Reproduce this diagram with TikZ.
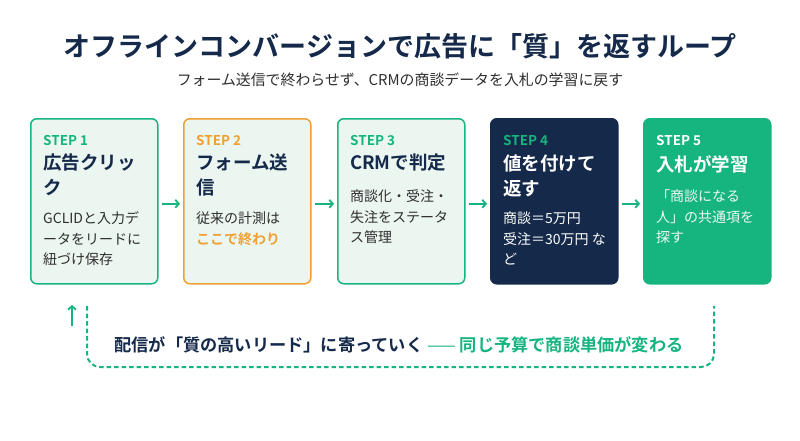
\documentclass[tikz,border=0pt]{standalone}
\usepackage{fontspec}
\setmainfont{Noto Sans CJK JP}[BoldFont={Noto Sans CJK JP Bold}]
\usetikzlibrary{arrows.meta}
\definecolor{navy}{HTML}{15294A}
\definecolor{grn}{HTML}{16B47E}
\definecolor{lite}{HTML}{ECF6F1}
\definecolor{orng}{HTML}{F0A032}
\definecolor{txtgray}{HTML}{2E2E2E}
\tikzset{
  card/.style={rounded corners=6pt, line width=1.5pt, minimum width=127pt, minimum height=165pt, inner sep=0pt, anchor=north west},
  ln/.style={inner sep=0pt, anchor=west, text height=0.88em, text depth=0.12em},
  steplbl/.style={ln, font=\fontsize{13.5}{16}\selectfont\bfseries},
  head/.style={ln, font=\fontsize{18.5}{22}\selectfont\bfseries},
  body/.style={ln, font=\fontsize{14}{18}\selectfont},
  flow/.style={draw=grn, line width=1.8pt, -{Straight Barb[length=3.5pt,width=8pt]}, shorten >=3pt, shorten <=3pt},
}
\begin{document}
\begin{tikzpicture}[x=1pt,y=-1pt]
\useasboundingbox[fill=white] (0,0) rectangle (800,440);
% title
\node[inner sep=0pt, text=navy, font=\fontsize{27}{32}\selectfont\bfseries] (title) at (400,46) {オフラインコンバージョンで広告に「質」を返すループ};
\node[inner sep=0pt, text=txtgray, font=\fontsize{14.9}{18}\selectfont] (sub) at (400,80) {フォーム送信で終わらせず、CRMの商談データを入札の学習に戻す};
% cards
\node[card, draw=grn, fill=lite] (b1) at (30,118) {};
\node[card, draw=orng, fill=lite] (b2) at (183,118) {};
\node[card, draw=grn, fill=lite] (b3) at (337,118) {};
\node[card, draw=navy, fill=navy] (b4) at (490,118) {};
\node[card, draw=grn, fill=grn] (b5) at (643,118) {};
% card 1
\node[steplbl, text=grn] (s1) at (43,142) {STEP 1};
\node[head, text=navy] (h1a) at (43,166) {広告クリッ};
\node[head, text=navy] (h1b) at (43,191) {ク};
\node[body, text=txtgray] (t1a) at (43,220) {GCLIDと入力デ};
\node[body, text=txtgray] (t1b) at (43,240.5) {ータをリードに};
\node[body, text=txtgray] (t1c) at (43,261) {紐づけ保存};
% card 2
\node[steplbl, text=orng] (s2) at (196,142) {STEP 2};
\node[head, text=navy] (h2a) at (196,166) {フォーム送};
\node[head, text=navy] (h2b) at (196,191) {信};
\node[body, text=txtgray] (t2a) at (196,220) {従来の計測は};
\node[body, text=orng, font=\fontsize{14}{18}\selectfont\bfseries] (t2b) at (196,240.5) {ここで終わり};
% card 3
\node[steplbl, text=grn] (s3) at (350,142) {STEP 3};
\node[head, text=navy] (h3a) at (350,166) {CRMで判定};
\node[body, text=txtgray] (t3a) at (350,198) {商談化・受注・};
\node[body, text=txtgray] (t3b) at (350,218.5) {失注をステータ};
\node[body, text=txtgray] (t3c) at (350,239) {ス管理};
% card 4
\node[steplbl, text=grn] (s4) at (503,142) {STEP 4};
\node[head, text=white] (h4a) at (503,167) {値を付けて};
\node[head, text=white] (h4b) at (503,192) {返す};
\node[body, text=white] (t4a) at (503,220) {商談＝5万円};
\node[body, text=white] (t4b) at (503,240.5) {受注＝30万円 な};
\node[body, text=white] (t4c) at (503,261) {ど};
% card 5
\node[steplbl, text=white] (s5) at (656,142) {STEP 5};
\node[head, text=white] (h5a) at (656,168) {入札が学習};
\node[body, text=white!92!grn] (t5a) at (656,198) {「商談になる};
\node[body, text=white!92!grn] (t5b) at (656,218.5) {人」の共通項を};
\node[body, text=white!92!grn] (t5c) at (656,239) {探す};
% flow arrows
\draw[flow] ([yshift=-2.5pt]b1.east) -- ([yshift=-2.5pt]b2.west);
\draw[flow] ([yshift=-2.5pt]b2.east) -- ([yshift=-2.5pt]b3.west);
\draw[flow] ([yshift=-2.5pt]b3.east) -- ([yshift=-2.5pt]b4.west);
\draw[flow] ([yshift=-2.5pt]b4.east) -- ([yshift=-2.5pt]b5.west);
% loop back
\coordinate (u0) at (72,326);
\coordinate (u1) at (72,305);
\draw[flow, shorten >=0pt, shorten <=0pt] (u0) -- (u1);
\coordinate (l1) at (87,306);
\coordinate (l2) at (87,367);
\coordinate (l3) at (714,367);
\coordinate (l4) at (714,306);
\draw[grn, line width=2pt, dash pattern=on 4.5pt off 3pt, rounded corners=13pt] (l1) -- (l2) -- (l3) -- (l4);
\node[inner sep=0pt, font=\fontsize{17.2}{20}\selectfont\bfseries] (loop) at (399,345) {\textcolor{navy}{配信が「質の高いリード」に寄っていく}\textcolor{grn}{\mdseries\ —— }\textcolor{grn}{同じ予算で商談単価が変わる}};
\end{tikzpicture}
\end{document}
